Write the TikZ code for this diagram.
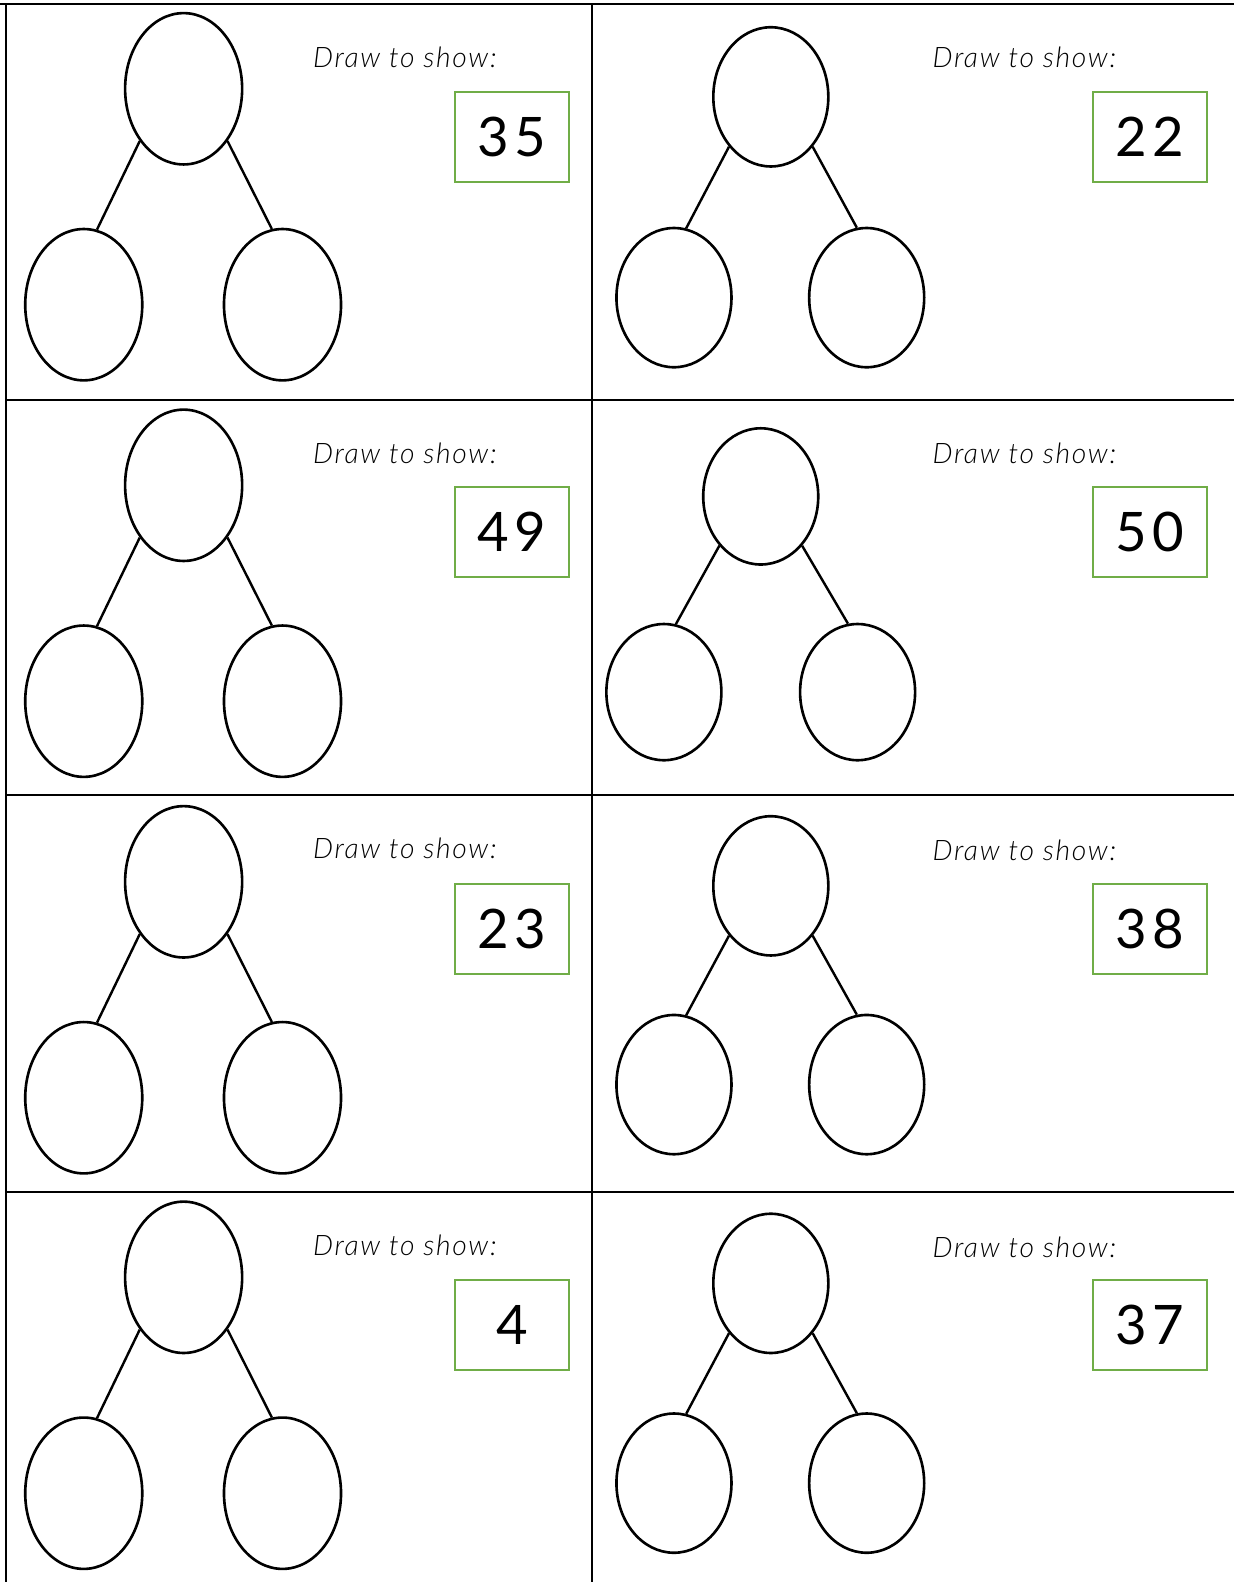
\documentclass[tikz,border=0pt]{standalone}
\usepackage{fontspec}
\setmainfont{Lato}
\newfontfamily\numfont{Lato}[LetterSpace=10]
\newfontfamily\cursivefont{Lato Light Italic}[LetterSpace=6]
\usepackage{tikz}
\usetikzlibrary{positioning,shapes.geometric}
\definecolor{boxgreen}{RGB}{112,173,71}
\tikzset{
  bigpart/.style={draw, ellipse, line width=1.3pt, inner sep=0pt, minimum width=58pt, minimum height=75pt},
  smallpart/.style={draw, ellipse, line width=1.3pt, inner sep=0pt, minimum width=57pt, minimum height=69pt},
  branch/.style={line width=1.2pt},
  cellline/.style={line width=1pt},
  prompt/.style={anchor=west, inner sep=0pt, font=\cursivefont\fontsize{14}{16}\selectfont},
  numbox/.style={draw=boxgreen, line width=1pt, minimum width=56.5pt, minimum height=44.5pt, font=\numfont\fontsize{27}{27}\selectfont}
}

\begin{document}
\begin{tikzpicture}[x=0.5pt, y=-0.5pt]
  \useasboundingbox (0,0) rectangle (1223,1568);
  \draw[cellline] (0,4) -- (1223,4);
  \draw[cellline] (6,4) -- (6,1568);
  \draw[cellline] (587,4) -- (587,1568);
  \draw[cellline] (6,396) -- (1223,396);
  \draw[cellline] (6,788) -- (1223,788);
  \draw[cellline] (6,1181) -- (1223,1181);

  \node[bigpart] (t1) at (182,88) {};
  \node[bigpart] (l1) at (83,302) {};
  \node[bigpart] (r1) at (280,302) {};
  \draw[branch] (t1.230) -- (l1.80);
  \draw[branch] (t1.310) -- (r1.98);
  \node[prompt] (p1) at (310,57) {Draw to show:};
  \node[numbox] (n1) at (507.5,135.5) {35};

  \node[smallpart] (t2) at (764,96) {};
  \node[smallpart] (l2) at (668,295) {};
  \node[smallpart] (r2) at (859,295) {};
  \draw[branch] (t2.230) -- (l2.80);
  \draw[branch] (t2.310) -- (r2.98);
  \node[prompt] (p2) at (924,57) {Draw to show:};
  \node[numbox] (n2) at (1139.5,135.5) {22};

  \node[bigpart] (t3) at (182,481) {};
  \node[bigpart] (l3) at (83,695) {};
  \node[bigpart] (r3) at (280,695) {};
  \draw[branch] (t3.230) -- (l3.80);
  \draw[branch] (t3.310) -- (r3.98);
  \node[prompt] (p3) at (310,449) {Draw to show:};
  \node[numbox] (n3) at (507.5,527.5) {49};

  \node[smallpart, minimum height=67.5pt] (t4) at (754,492) {};
  \node[smallpart, minimum height=67.5pt] (l4) at (658,686) {};
  \node[smallpart, minimum height=67.5pt] (r4) at (850,686) {};
  \draw[branch] (t4.230) -- (l4.80);
  \draw[branch] (t4.310) -- (r4.98);
  \node[prompt] (p4) at (924,449) {Draw to show:};
  \node[numbox] (n4) at (1139.5,527.5) {50};

  \node[bigpart] (t5) at (182,874) {};
  \node[bigpart] (l5) at (83,1088) {};
  \node[bigpart] (r5) at (280,1088) {};
  \draw[branch] (t5.230) -- (l5.80);
  \draw[branch] (t5.310) -- (r5.98);
  \node[prompt] (p5) at (310,841) {Draw to show:};
  \node[numbox] (n5) at (507.5,920.5) {23};

  \node[smallpart] (t6) at (764,878) {};
  \node[smallpart] (l6) at (668,1075) {};
  \node[smallpart] (r6) at (859,1075) {};
  \draw[branch] (t6.230) -- (l6.80);
  \draw[branch] (t6.310) -- (r6.98);
  \node[prompt] (p6) at (924,843) {Draw to show:};
  \node[numbox] (n6) at (1139.5,920.5) {38};

  \node[bigpart] (t7) at (182,1266) {};
  \node[bigpart] (l7) at (83,1480) {};
  \node[bigpart] (r7) at (280,1480) {};
  \draw[branch] (t7.230) -- (l7.80);
  \draw[branch] (t7.310) -- (r7.98);
  \node[prompt] (p7) at (310,1234) {Draw to show:};
  \node[numbox] (n7) at (507.5,1313.5) {4};

  \node[smallpart] (t8) at (764,1272) {};
  \node[smallpart] (l8) at (668,1470) {};
  \node[smallpart] (r8) at (859,1470) {};
  \draw[branch] (t8.230) -- (l8.80);
  \draw[branch] (t8.310) -- (r8.98);
  \node[prompt] (p8) at (924,1236) {Draw to show:};
  \node[numbox] (n8) at (1139.5,1313.5) {37};
\end{tikzpicture}
\end{document}
